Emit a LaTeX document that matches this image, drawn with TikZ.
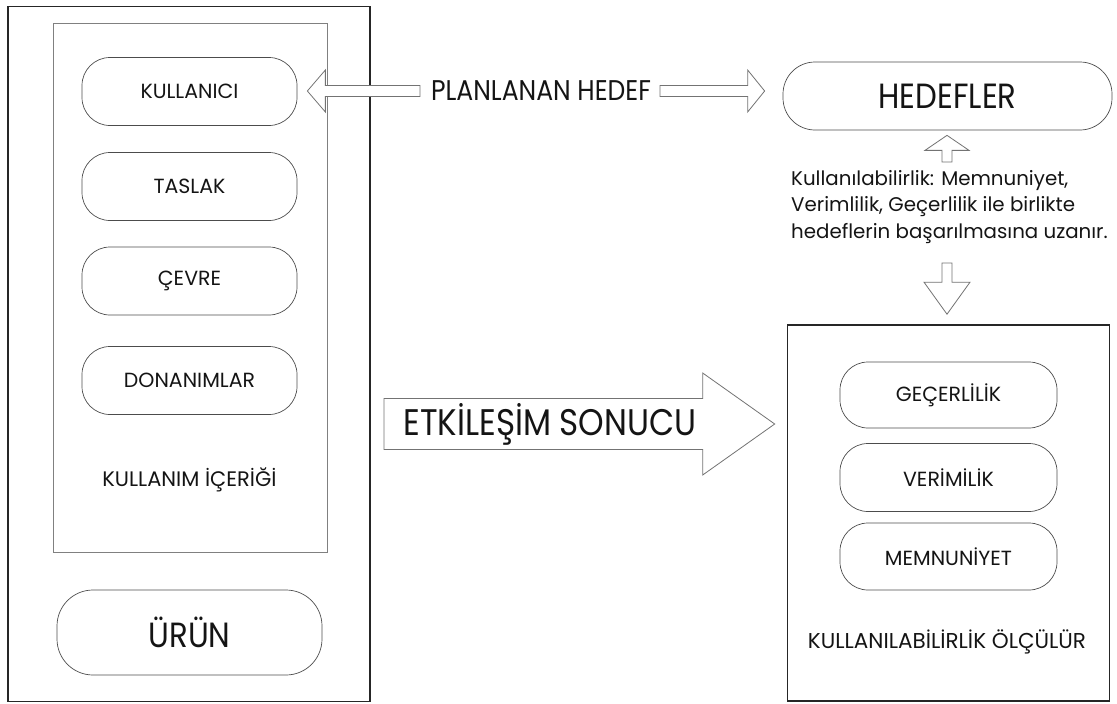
\documentclass[tikz,border=0pt]{standalone}
\usepackage{fontspec}
\setmainfont{Poppins}
\newfontfamily\narrowfont{Poppins}[FakeStretch=0.88]
\usetikzlibrary{calc}

% horizontal block arrow: tail, tip, shaft half-height, head half-height, head length
\newcommand\blockarrowH[5]{%
  \draw[blockline] let \p1=#1, \p2=#2, \n1={sign(\x2-\x1)} in
    (\x1,\y1+#3) -- (\x2-\n1*#5,\y1+#3) -- (\x2-\n1*#5,\y1+#4) -- (\x2,\y1)
    -- (\x2-\n1*#5,\y1-#4) -- (\x2-\n1*#5,\y1-#3) -- (\x1,\y1-#3) -- cycle;}
% vertical block arrow: tail, tip, shaft half-width, head half-width, head length
\newcommand\blockarrowV[5]{%
  \draw[blockline] let \p1=#1, \p2=#2, \n1={sign(\y2-\y1)} in
    (\x1+#3,\y1) -- (\x1+#3,\y2-\n1*#5) -- (\x1+#4,\y2-\n1*#5) -- (\x1,\y2)
    -- (\x1-#4,\y2-\n1*#5) -- (\x1-#3,\y2-\n1*#5) -- (\x1-#3,\y1) -- cycle;}

\begin{document}
\begin{tikzpicture}[x=1pt,y=-1pt,
  every node/.style={text=black!92, inner sep=0pt},
  frame/.style={draw=black!85, line width=1.6pt},
  context/.style={draw=black!50, line width=0.8pt},
  pill/.style={draw=black!70, line width=0.7pt, rounded corners=28pt,
    minimum width=215pt, minimum height=68pt, font=\fontsize{20.5}{24}\selectfont},
  bigpill/.style={pill, font=\narrowfont\fontsize{35}{40}\selectfont},
  blockline/.style={draw=black!55, line width=0.8pt, fill=white, line join=miter},
  caption/.style={font=\fontsize{21}{24}\selectfont}]

\useasboundingbox (0,0) rectangle (1117,704);

% left column: product with its context of use
\node[frame, minimum width=362pt, minimum height=695pt] (prod) at (189,354) {};
\node[context, minimum width=274pt, minimum height=529pt] (ctx) at (190,287.5) {};
\node[pill] (kul) at (189.5,91.5) {KULLANICI};
\node[pill] (tas) at (189.5,186.5) {TASLAK};
\node[pill] (cev) at (189.5,281) {ÇEVRE};
\node[pill] (don) at (189.5,380.5) {DONANIMLAR};
\node[caption] (ctxlabel) at (189.5,480) {KULLANIM İÇERİĞİ};
\node[bigpill, rounded corners=36pt, minimum width=265pt, minimum height=85pt]
  (urun) at (189.5,632.5) {ÜRÜN};

% goals
\node[bigpill, rounded corners=32pt, minimum width=329pt, minimum height=68pt]
  (hed) at (947.5,96) {HEDEFLER};

% planned goal, pointing both ways
\node[font=\narrowfont\fontsize{28.5}{32}\selectfont] (plan) at (541,91) {PLANLANAN HEDEF};
\coordinate (planL) at (420,91);
\coordinate (planR) at (660,91);
\blockarrowH{(planL)}{($(kul.east)+(10,0)$)}{5.5pt}{21pt}{18pt}
\blockarrowH{(planR)}{($(hed.west)+(-18,0)$)}{5.5pt}{21pt}{17pt}

% measured usability
\node[frame, minimum width=322pt, minimum height=376pt] (meas) at (948.5,513) {};
\node[pill, minimum width=217pt, minimum height=66pt] (gec) at (948.5,395) {GEÇERLİLİK};
\node[pill, minimum width=217pt, minimum height=68pt] (ver) at (948.5,477.5) {VERİMİLİK};
\node[pill, minimum width=217pt, minimum height=67pt] (mem) at (948.5,556.5) {MEMNUNİYET};
\node[caption, font=\fontsize{21.5}{24}\selectfont] (measlabel) at (947,642) {KULLANILABİLİRLİK ÖLÇÜLÜR};

% definition between goals and measurement
\node[anchor=west, align=left, font=\fontsize{19.8}{26.5}\selectfont] (def) at (791,207)
  {Kullanılabilirlik: Memnuniyet,\\Verimlilik, Geçerlilik ile birlikte\\hedeflerin başarılmasına uzanır.};
\coordinate (upTail) at (947,162);
\coordinate (downTail) at (947,263);
\blockarrowV{(upTail)}{($(hed.south)+(-0.5,5)$)}{5pt}{22pt}{15pt}
\blockarrowV{(downTail)}{($(meas.north)+(-1.5,-10)$)}{5pt}{23pt}{32pt}

% result of interaction
\coordinate (etkTail) at (384,424);
\blockarrowH{(etkTail)}{($(meas.west)+(-12,-89)$)}{25.5pt}{51pt}{72pt}
\node[font=\narrowfont\fontsize{37}{42}\selectfont] (etk) at (550,424) {ETKİLEŞİM SONUCU};

\end{tikzpicture}
\end{document}
